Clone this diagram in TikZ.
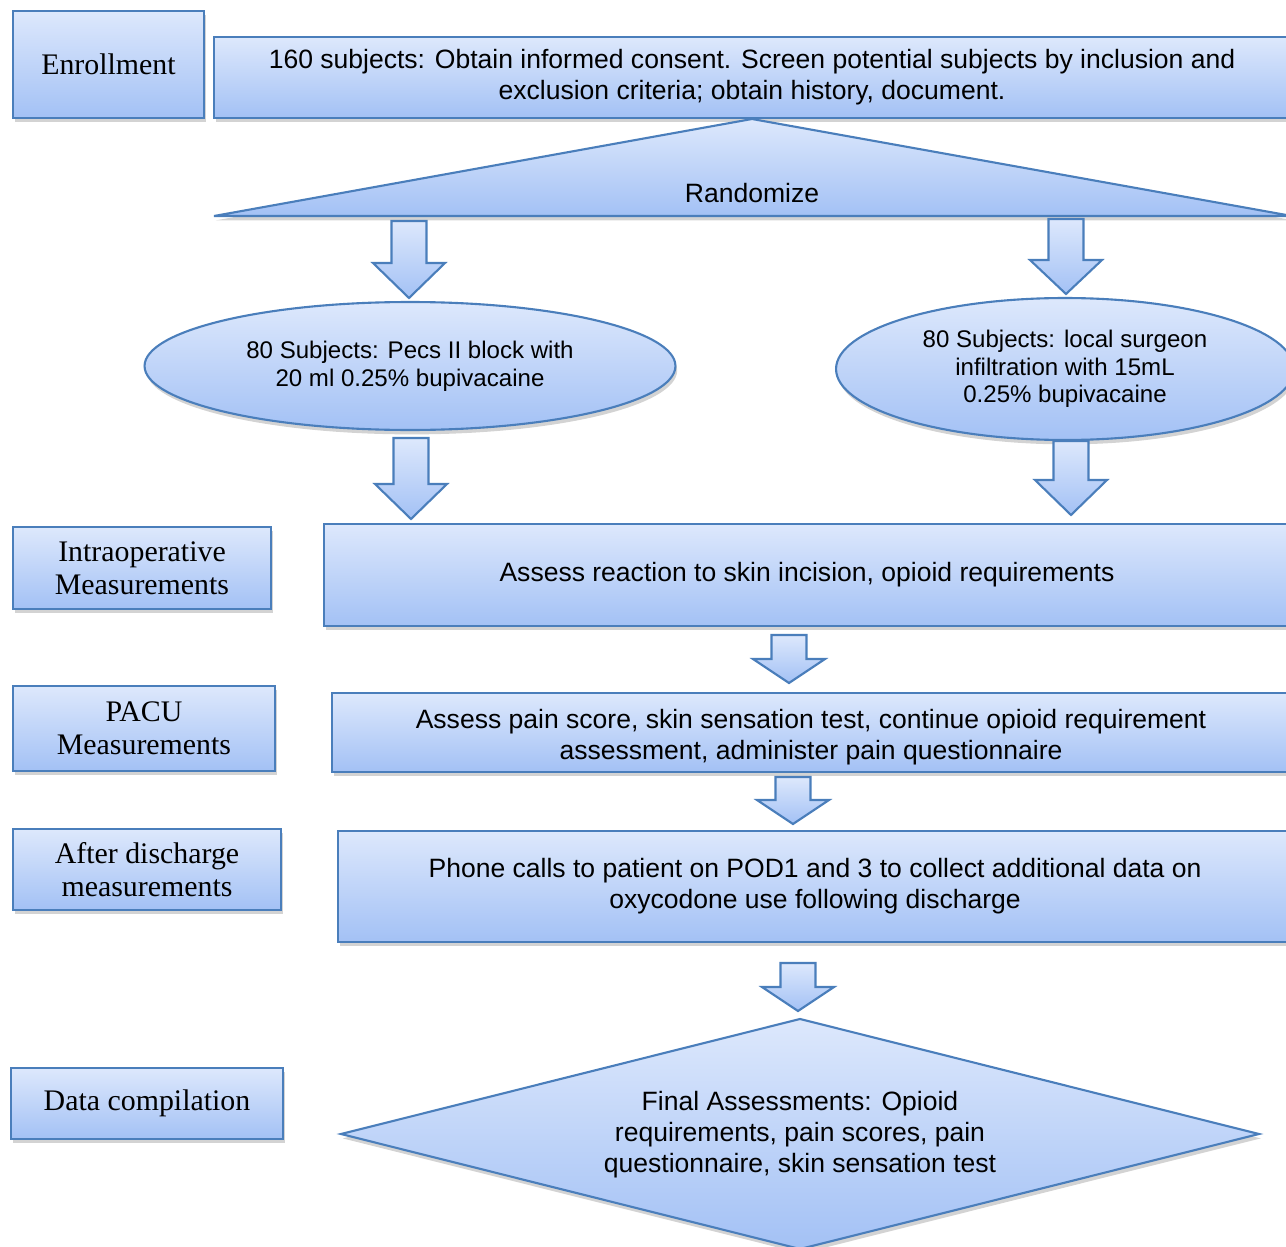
\documentclass[tikz,border=0pt]{standalone}
\usepackage{fontspec}
\setmainfont{Liberation Serif}
\newfontfamily\arialfont{Liberation Sans}
\usetikzlibrary{shapes.geometric,shadows}

\definecolor{edgeblue}{HTML}{4A7EBB}
\definecolor{filltop}{HTML}{DDE8FC}
\definecolor{fillbot}{HTML}{A3C1F5}

\tikzset{
  shade box/.style={draw=edgeblue, line width=1.2pt, top color=filltop, bottom color=fillbot,
    drop shadow={opacity=.35, shadow xshift=1pt, shadow yshift=-2.5pt}},
  label box/.style={shade box, align=center, inner sep=0pt, font=\fontsize{17}{18.8}\selectfont},
  step box/.style={shade box, align=center, inner sep=0pt, font=\arialfont\fontsize{15.1}{17.6}\selectfont},
  step text/.style={align=center, inner sep=0pt, font=\arialfont\fontsize{15.1}{17.6}\selectfont},
  arm box/.style={shade box, ellipse, align=center, inner sep=0pt, font=\arialfont\fontsize{13.7}{15.8}\selectfont},
  block arrow/.style={draw=edgeblue, line width=1.2pt, top color=filltop, bottom color=fillbot},
}

\begin{document}
\begin{tikzpicture}[x=0.02cm, y=-0.02cm]
  \useasboundingbox (0,0) rectangle (1286,1247);
  \clip (0,0) rectangle (1286,1247);

  % stage labels
  \node[label box, minimum width=3.82cm, minimum height=2.14cm] (enroll) at (108.5,64.5) {Enrollment};
  \node[label box, minimum width=5.16cm, minimum height=1.64cm] (intraop) at (142,568) {Intraoperative\\Measurements};
  \node[label box, minimum width=5.24cm, minimum height=1.7cm] (pacu) at (144,728.5) {PACU\\Measurements};
  \node[label box, minimum width=5.36cm, minimum height=1.62cm] (after) at (147,869.5) {After discharge\\measurements};
  \node[label box, minimum width=5.44cm, minimum height=1.42cm] (datacomp) at (147,1103.5) {Data compilation};

  % study steps
  \node[step box, minimum width=21.52cm, minimum height=1.62cm] (consent) at (752,77.5)
    {160 subjects: Obtain informed consent. Screen potential subjects by inclusion and\\exclusion criteria; obtain history, document.};

  \draw[shade box] (214,216) coordinate (randL) -- (752,119) coordinate (randT) -- (1292,216) coordinate (randR) -- cycle;
  \node[step text] (randomize) at (752,193) {Randomize};

  \node[arm box, minimum width=10.62cm, minimum height=2.56cm] (pecs) at (410,366)
    {80 Subjects: Pecs II block with\\20 ml 0.25\% bupivacaine};
  \node[arm box, minimum width=9.16cm, minimum height=2.84cm] (local) at (1065,369)
    {80 Subjects: local surgeon\\infiltration with 15mL\\0.25\% bupivacaine};

  \node[step box, minimum width=19.32cm, minimum height=2.04cm] (incision) at (807,575)
    {Assess reaction to skin incision, opioid requirements};
  \node[step box, minimum width=19.16cm, minimum height=1.58cm] (pain) at (811,732.5) {};
  \begin{scope}
    \clip (pain.north west) rectangle (pain.south east);
    \node[step text] (paintext) at (811,737)
      {Assess pain score, skin sensation test, continue opioid requirement\\assessment, administer pain questionnaire};
  \end{scope}
  \node[step box, minimum width=19.08cm, minimum height=2.22cm] (phone) at (815,886.5)
    {Phone calls to patient on POD1 and 3 to collect additional data on\\oxycodone use following discharge};

  \draw[shade box] (341,1134) coordinate (finL) -- (800,1019) coordinate (finT)
    -- (1259,1134) coordinate (finR) -- (800,1249) coordinate (finB) -- cycle;
  \node[step text] (final) at (800,1135)
    {Final Assessments: Opioid\\requirements, pain scores, pain\\questionnaire, skin sensation test};

  % block arrows
  \foreach \xa/\ya/\yb/\yc in {409/221/263/298, 1066/219/260/294, 411/438/484/519, 1071/441/480/515,
                               789/635/659/683, 793/777/800/824, 798/963/987/1011}
    \draw[block arrow] (\xa-17.5,\ya) -- (\xa+17.5,\ya) -- (\xa+17.5,\yb) -- (\xa+36,\yb)
      -- (\xa,\yc) -- (\xa-36,\yb) -- (\xa-17.5,\yb) -- cycle;
\end{tikzpicture}
\end{document}
